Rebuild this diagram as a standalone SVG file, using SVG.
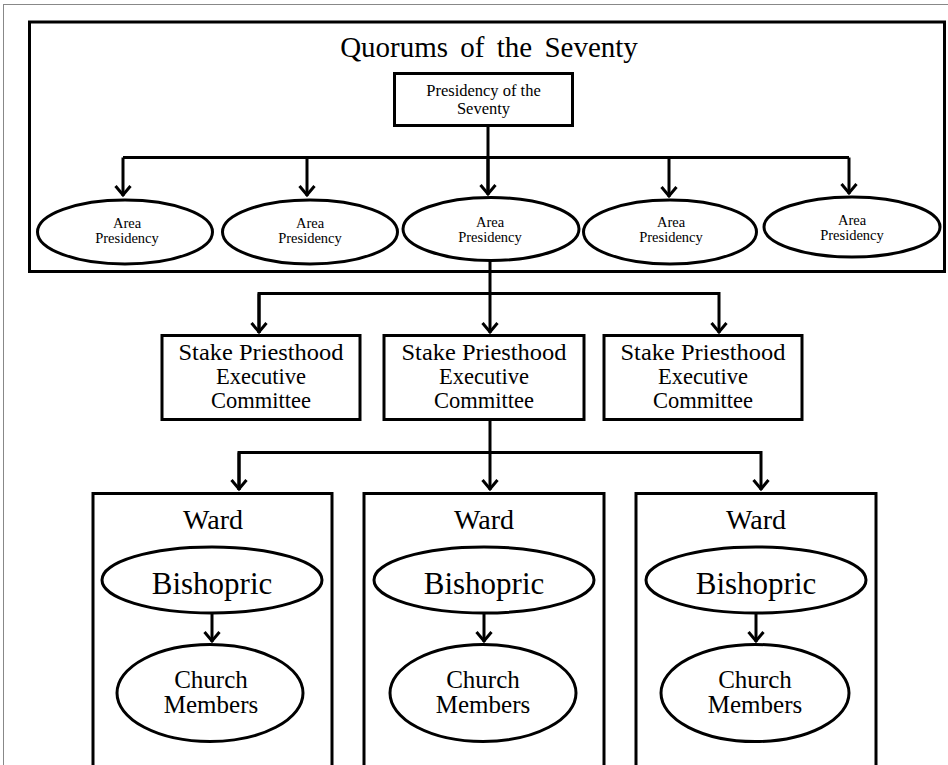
<svg xmlns="http://www.w3.org/2000/svg" width="948" height="765" viewBox="0 0 948 765">
<style>
  text { font-family: "Liberation Serif", "Times New Roman", serif; fill: #000; text-anchor: middle; }
  .box { fill: #fff; stroke: #000; stroke-width: 3; }
  .thin { fill: none; stroke: #000; stroke-width: 3; }
  .ell { fill: #fff; stroke: #000; stroke-width: 3; }
  .conn { fill: none; stroke: #000; stroke-width: 3; stroke-linejoin: miter; }
  .area { font-size: 14.5px; }
  .stake { font-size: 22.5px; }
  .ward { font-size: 28px; }
  .bish { font-size: 31px; }
  .memb { font-size: 25px; }
</style>
<defs>
  <marker id="chev" markerUnits="userSpaceOnUse" viewBox="0 0 16 20" markerWidth="16" markerHeight="20" refX="13" refY="10" orient="auto" overflow="visible">
    <path d="M3,2.5 L12,10 L3,17.5" fill="none" stroke="#000" stroke-width="3" stroke-linejoin="miter"/>
  </marker>
</defs>
<rect x="0" y="0" width="948" height="765" fill="#fff"/>
<rect x="3.5" y="4.5" width="960" height="780" fill="none" stroke="#888" stroke-width="1"/>

<g id="quorums">
  <rect class="box" x="29.5" y="22" width="915" height="249.5" fill="#fff"/>
  <text x="489" y="57" font-size="29" word-spacing="5">Quorums of the Seventy</text>
</g>

<g id="connectors">
  <path class="conn" d="M488,126 V194"/>
  <path class="conn" d="M123,157.5 H849"/>
  <path class="conn" d="M123,157.5 V196" marker-end="url(#chev)"/>
  <path class="conn" d="M307,157.5 V196" marker-end="url(#chev)"/>
  <path class="conn" d="M488,157.5 V195" marker-end="url(#chev)"/>
  <path class="conn" d="M669,157.5 V197" marker-end="url(#chev)"/>
  <path class="conn" d="M849,157.5 V194" marker-end="url(#chev)"/>
  <path class="conn" d="M490,260 V333" marker-end="url(#chev)"/>
  <path class="conn" d="M259,333 V293.5 H719 V333" marker-end="url(#chev)"/>
  <path class="conn" d="M259,293.5 V333" marker-end="url(#chev)"/>
  <path class="conn" d="M490,420 V490" marker-end="url(#chev)"/>
  <path class="conn" d="M239,490 V452.5 H761 V490" marker-end="url(#chev)"/>
  <path class="conn" d="M239,452.5 V490" marker-end="url(#chev)"/>
  <path class="conn" d="M212,613 V642" marker-end="url(#chev)"/>
  <path class="conn" d="M484,613 V642" marker-end="url(#chev)"/>
  <path class="conn" d="M756,613 V642" marker-end="url(#chev)"/>
</g>

<g id="presidency">
  <rect class="box" x="394.5" y="73.5" width="178" height="52"/>
  <text x="483.5" y="96" font-size="16.5">Presidency of the</text>
  <text x="483.5" y="114" font-size="16.5">Seventy</text>
</g>

<g id="area1">
  <ellipse class="ell" cx="125" cy="232" rx="87.5" ry="32"/>
  <text class="area" x="127" y="228">Area</text>
  <text class="area" x="127" y="243">Presidency</text>
</g>
<g id="area2">
  <ellipse class="ell" cx="310" cy="232" rx="87.5" ry="32"/>
  <text class="area" x="310" y="228">Area</text>
  <text class="area" x="310" y="243">Presidency</text>
</g>
<g id="area3">
  <ellipse class="ell" cx="491" cy="229" rx="88" ry="31.5"/>
  <text class="area" x="490" y="227">Area</text>
  <text class="area" x="490" y="242">Presidency</text>
</g>
<g id="area4">
  <ellipse class="ell" cx="670" cy="232" rx="86.5" ry="32"/>
  <text class="area" x="671" y="227">Area</text>
  <text class="area" x="671" y="242">Presidency</text>
</g>
<g id="area5">
  <ellipse class="ell" cx="852" cy="227" rx="88" ry="30"/>
  <text class="area" x="852" y="225">Area</text>
  <text class="area" x="852" y="240">Presidency</text>
</g>

<g id="stake1">
  <rect class="box" x="162" y="335.5" width="198" height="84"/>
  <text class="stake" x="261" y="360" textLength="165" lengthAdjust="spacingAndGlyphs">Stake Priesthood</text>
  <text class="stake" x="261" y="384">Executive</text>
  <text class="stake" x="261" y="408">Committee</text>
</g>
<g id="stake2">
  <rect class="box" x="384" y="335.5" width="200" height="84"/>
  <text class="stake" x="484" y="360" textLength="165" lengthAdjust="spacingAndGlyphs">Stake Priesthood</text>
  <text class="stake" x="484" y="384">Executive</text>
  <text class="stake" x="484" y="408">Committee</text>
</g>
<g id="stake3">
  <rect class="box" x="604" y="335.5" width="198" height="84"/>
  <text class="stake" x="703" y="360" textLength="165" lengthAdjust="spacingAndGlyphs">Stake Priesthood</text>
  <text class="stake" x="703" y="384">Executive</text>
  <text class="stake" x="703" y="408">Committee</text>
</g>

<g id="ward1">
  <rect class="thin" x="93" y="493.5" width="239" height="290"/>
  <text class="ward" x="213" y="529">Ward</text>
  <ellipse class="ell" cx="212" cy="580" rx="110" ry="33"/>
  <text class="bish" x="212" y="594">Bishopric</text>
  <ellipse class="ell" cx="210" cy="693" rx="93" ry="48.5"/>
  <text class="memb" x="211" y="688">Church</text>
  <text class="memb" x="211" y="713">Members</text>
</g>
<g id="ward2">
  <rect class="thin" x="364" y="493.5" width="240" height="290"/>
  <text class="ward" x="484" y="529">Ward</text>
  <ellipse class="ell" cx="484" cy="580" rx="110" ry="33"/>
  <text class="bish" x="484" y="594">Bishopric</text>
  <ellipse class="ell" cx="483" cy="693" rx="93" ry="48.5"/>
  <text class="memb" x="483" y="688">Church</text>
  <text class="memb" x="483" y="713">Members</text>
</g>
<g id="ward3">
  <rect class="thin" x="636" y="493.5" width="240" height="290"/>
  <text class="ward" x="756" y="529">Ward</text>
  <ellipse class="ell" cx="756" cy="580" rx="110" ry="33"/>
  <text class="bish" x="756" y="594">Bishopric</text>
  <ellipse class="ell" cx="755" cy="693" rx="94" ry="48.5"/>
  <text class="memb" x="755" y="688">Church</text>
  <text class="memb" x="755" y="713">Members</text>
</g>
</svg>
